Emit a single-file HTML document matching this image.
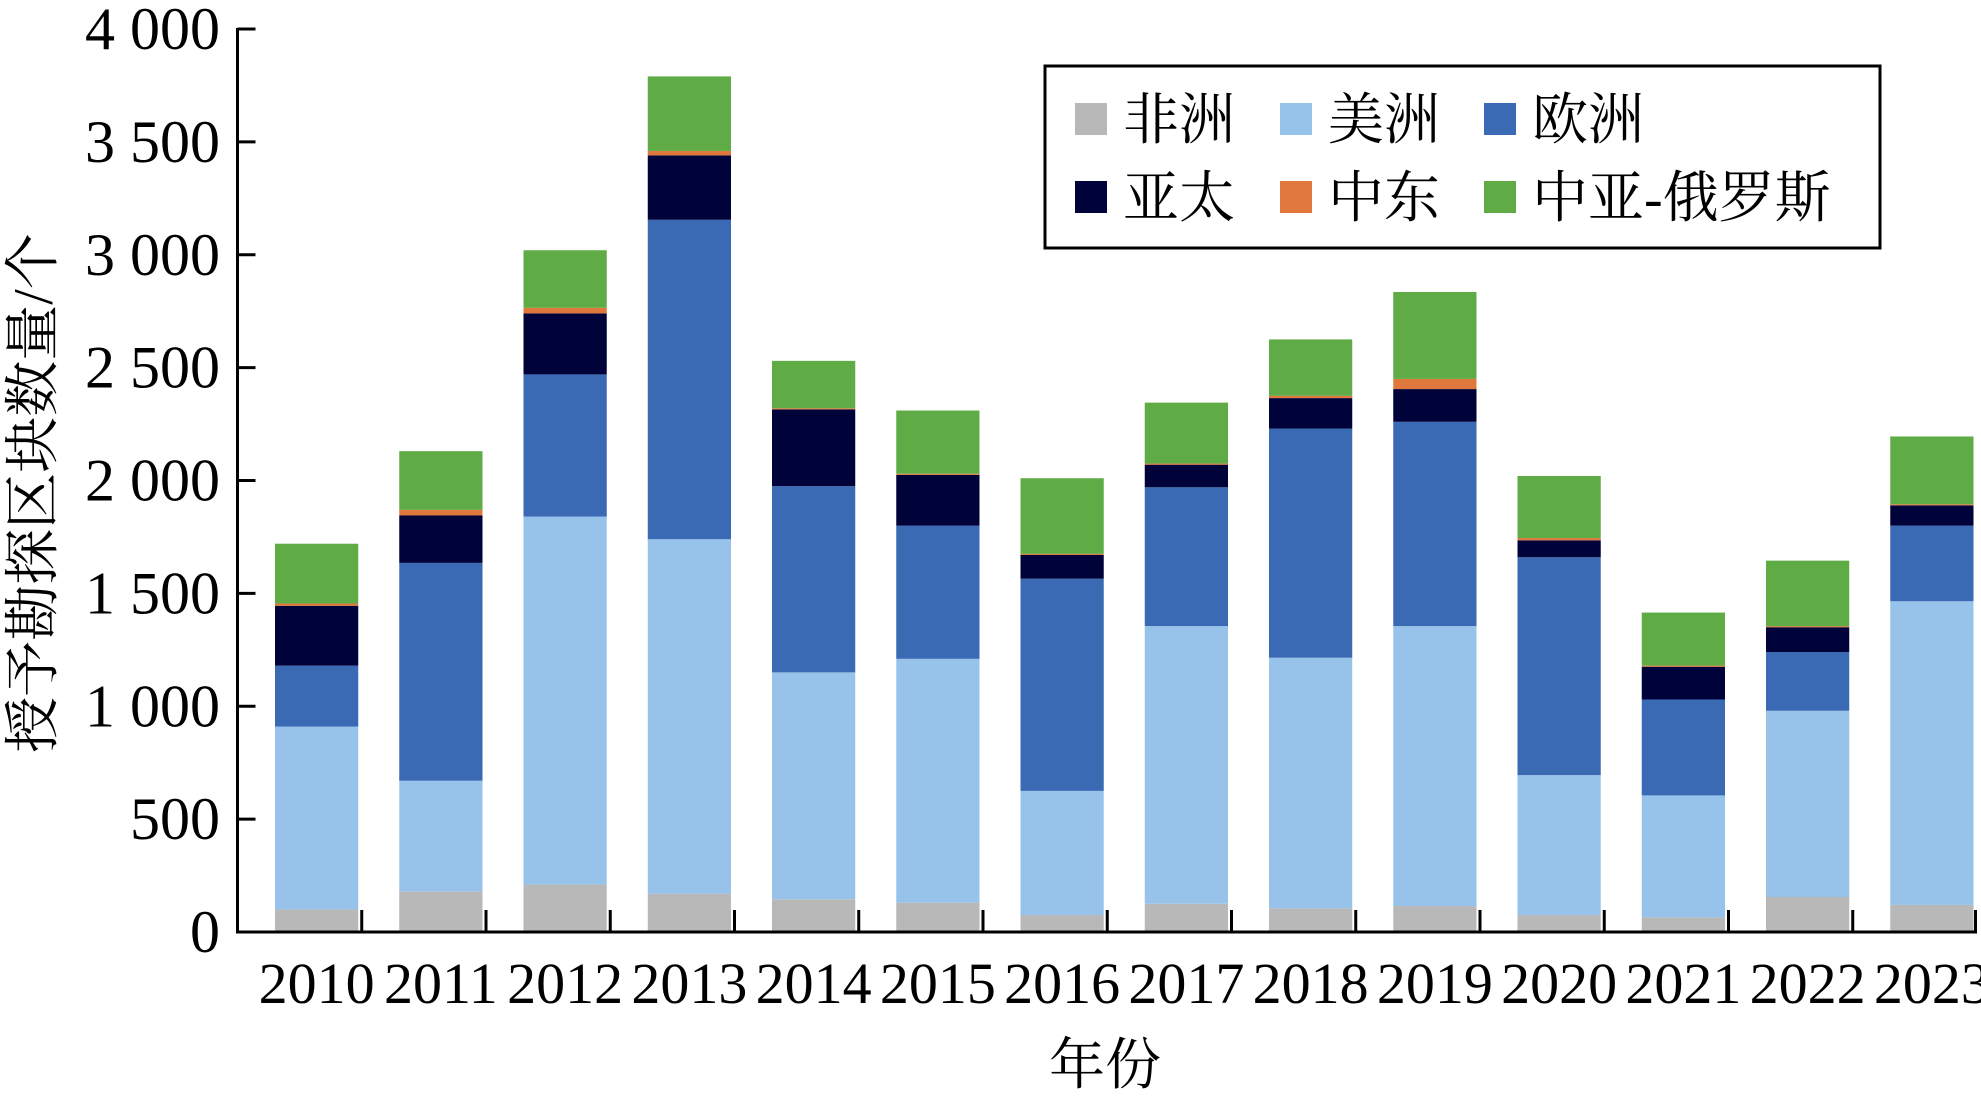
<!DOCTYPE html>
<html><head><meta charset="utf-8"><style>
html,body{margin:0;padding:0;background:#fff;}
svg, svg text{font-family:"Liberation Serif","Times New Roman","DejaVu Serif","Noto Serif CJK SC",serif;}
svg text{fill:#000;}
</style></head><body>
<svg id="chart" width="1981" height="1106" viewBox="0 0 1981 1106" xmlns="http://www.w3.org/2000/svg" font-family="'Liberation Serif','DejaVu Serif','Noto Serif CJK SC',serif">
<g id="plot"></g>
<g id="axes"></g>
<text transform="translate(52,493) rotate(-90)" text-anchor="middle" font-size="56">授予勘探区块数量/个</text>
<text x="1105" y="1084" text-anchor="middle" font-size="56">年份</text>
<g>
<rect x="1045" y="66" width="835" height="182" fill="#fff" stroke="#000" stroke-width="3"/>
<g id="legend-items"></g>
</g>
</svg>
<script>
const categories=["2010","2011","2012","2013","2014","2015","2016","2017","2018","2019","2020","2021","2022","2023"];
const seriesNames=["非洲","美洲","欧洲","亚太","中东","中亚-俄罗斯"];
const africa=[100,180,210,170,145,130,75,125,105,115,75,65,155,120];
const america=[810,490,1630,1570,1005,1080,550,1230,1110,1240,620,540,825,1345];
const europe=[270,965,630,1415,825,590,940,615,1015,905,965,425,260,335];
const asiaPacific=[265,210,270,285,340,225,105,100,135,145,75,145,110,90];
const middleEast=[10,25,25,20,5,5,5,5,10,45,10,5,5,5];
const centralAsiaRussia=[265,260,255,330,210,280,335,270,250,385,275,235,290,300];
const yTicks=[0,500,1000,1500,2000,2500,3000,3500,4000];
const yTickLabels=["0","500","1 000","1 500","2 000","2 500","3 000","3 500","4 000"];
const colors=["#b8b8b8","#97c3ea","#3a6ab3","#00033a","#e0773c","#5fac47"];
const series=[africa,america,europe,asiaPacific,middleEast,centralAsiaRussia];
const keys=["africa","america","europe","asia-pacific","middle-east","central-asia-russia"];
const NS="http://www.w3.org/2000/svg";
const x0=237.5,x1=1977,y0=932,yTop=29,yMax=4000;
const band=(x1-x0)/categories.length;
const barShift=17;
function yScale(v){return y0-(v/yMax)*(y0-yTop);}
function xCenter(i){return x0+band*(i+0.5);}
function mk(tag,attrs,parent){const e=document.createElementNS(NS,tag);for(const k in attrs)e.setAttribute(k,attrs[k]);parent.appendChild(e);return e;}
const plot=document.getElementById('plot'),axes=document.getElementById('axes');
const bw=band*0.67;
categories.forEach((c,i)=>{
  let cum=0;
  series.forEach((s,j)=>{
    const a=yScale(cum),b=yScale(cum+s[i]);cum+=s[i];
    const r=mk('rect',{x:xCenter(i)+barShift-bw/2,y:b,width:bw,height:Math.max(0,a-b),fill:colors[j]},plot);
    
    
  });
  const t=mk('text',{x:xCenter(i)+barShift,y:1003,'text-anchor':'middle','font-size':'58'},axes);
  t.textContent=c;
  
  
  if(i>0){const tk=mk('line',{x1:x0+band*i,x2:x0+band*i,y1:y0,y2:y0-22,stroke:'#000','stroke-width':3},axes);
  
  }
});
const tkEnd=mk('line',{x1:x1-1.5,x2:x1-1.5,y1:y0,y2:y0-22,stroke:'#000','stroke-width':3},axes);


yTicks.forEach((v,k)=>{
  const tk=mk('line',{x1:x0,x2:x0+18,y1:yScale(v),y2:yScale(v),stroke:'#000','stroke-width':3},axes);
  
  
  const t=mk('text',{x:220,y:yScale(v)+20,'text-anchor':'end','font-size':'60'},axes);
  t.textContent=yTickLabels[k];
  
  
});
const ya=mk('line',{x1:x0,x2:x0,y1:yTop-1,y2:y0+1.5,stroke:'#000','stroke-width':3},axes);


const xa=mk('line',{x1:x0,x2:x1,y1:y0,y2:y0,stroke:'#000','stroke-width':3},axes);


const lg=document.getElementById('legend-items');
const lx=[1075,1280,1484],ly=[120,198];
seriesNames.forEach((n,j)=>{
  const col=j%3,row=Math.floor(j/3);
  const g=mk('g',{},lg);
  
  
  mk('rect',{x:lx[col],y:ly[row]-17,width:32,height:32,fill:colors[j]},g);
  const t=mk('text',{x:lx[col]+48,y:ly[row]+19,'font-size':'56'},g);
  t.textContent=n;
});
</script>
</body></html>
